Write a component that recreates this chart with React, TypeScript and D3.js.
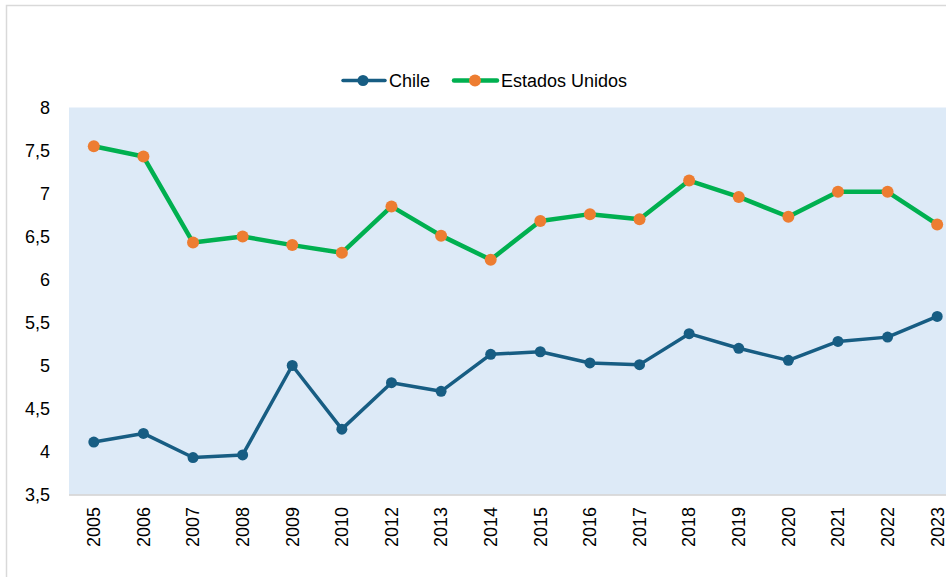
import React from "react";
import * as d3 from "d3";

const years = ["2005","2006","2007","2008","2009","2010","2012","2013","2014","2015","2016","2017","2018","2019","2020","2021","2022","2023"];
const chile = [4.11, 4.21, 3.93, 3.96, 5.0, 4.26, 4.80, 4.70, 5.13, 5.16, 5.03, 5.01, 5.37, 5.20, 5.06, 5.28, 5.33, 5.57];
const estadosUnidos = [7.55, 7.43, 6.43, 6.50, 6.40, 6.31, 6.85, 6.51, 6.23, 6.68, 6.76, 6.70, 7.15, 6.96, 6.73, 7.02, 7.02, 6.64];
const yTicks = [3.5, 4, 4.5, 5, 5.5, 6, 6.5, 7, 7.5, 8];

const W = 946;
const H = 577;

export default function App() {
  const x = d3.scaleBand<string>().domain(years).range([69, 962]).padding(0);
  const y = d3.scaleLinear().domain([3.5, 8]).range([494.5, 107.5]);
  const cx = (d: string) => (x(d) as number) + x.bandwidth() / 2;
  const line = d3.line<number>().x((_, i) => cx(years[i])).y((v) => y(v));
  const fmt = (v: number) => String(v).replace(".", ",");
  const font = "'Liberation Sans', Arial, sans-serif";
  const series = [
    { name: "Chile", data: chile, stroke: "#175d83", width: 3.5, marker: "#175d83", r: 5.5 },
    { name: "Estados Unidos", data: estadosUnidos, stroke: "#00b050", width: 4.5, marker: "#ed7d31", r: 6 },
  ];
  return (
    <div style={{ position: "absolute", left: 0, top: 0 }}>
      <svg width={W} height={H} style={{ display: "block", background: "#fff" }} fontFamily={font}>
        <rect x={6.5} y={5.5} width={1200} height={1200} fill="none" stroke="#d9d9d9" strokeWidth={1.5} />
        <rect x={69} y={y(8)} width={962 - 69} height={y(3.5) - y(8)} fill="#ddeaf7" />
        <line x1={69} x2={962} y1={y(3.5) + 0.5} y2={y(3.5) + 0.5} stroke="#d0d0d0" strokeWidth={1.5} />
        {yTicks.map((t) => (
          <text key={t} x={50} y={y(t)} dy="0.35em" textAnchor="end" fontSize={18} fill="#000">
            {fmt(t)}
          </text>
        ))}
        {years.map((yr) => (
          <text key={yr} transform={`translate(${cx(yr)},507) rotate(-90)`} dy="0.35em" textAnchor="end" fontSize={18} fill="#000">
            {yr}
          </text>
        ))}
        {series.map((s) => (
          <g key={s.name}>
            <path d={line(s.data) || ""} fill="none" stroke={s.stroke} strokeWidth={s.width} strokeLinejoin="round" />
            {s.data.map((v, i) => (
              <circle key={i} cx={cx(years[i])} cy={y(v)} r={s.r} fill={s.marker} />
            ))}
          </g>
        ))}
        <g>
          <line x1={343} x2={385} y1={80.5} y2={80.5} stroke="#175d83" strokeWidth={3.5} strokeLinecap="round" />
          <circle cx={363} cy={80.5} r={5.5} fill="#175d83" />
          <text x={389} y={80.5} dy="0.35em" fontSize={18} fill="#000">Chile</text>
          <line x1={454} x2={497} y1={80.5} y2={80.5} stroke="#00b050" strokeWidth={4.5} strokeLinecap="round" />
          <circle cx={475} cy={80.5} r={6} fill="#ed7d31" />
          <text x={501} y={80.5} dy="0.35em" fontSize={18} fill="#000">Estados Unidos</text>
        </g>
      </svg>
    </div>
  );
}
